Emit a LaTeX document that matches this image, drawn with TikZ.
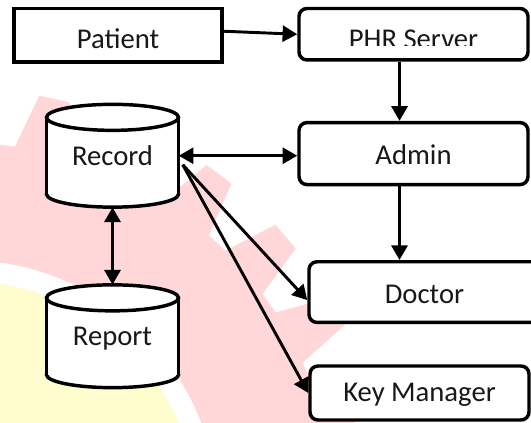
\documentclass[tikz,border=0pt]{standalone}
\usepackage{fontspec}
\setmainfont{Carlito}
\usetikzlibrary{arrows.meta,calc}
\definecolor{wmpink}{RGB}{255,215,216}
\definecolor{wmyellow}{RGB}{255,253,206}
\definecolor{txt}{RGB}{24,24,24}

\begin{document}
\begin{tikzpicture}[x=0.75pt,y=-0.75pt,
  frame/.style={draw=black, line width=2.6pt, fill=white, inner sep=0pt,
                font=\fontsize{21.5}{24}\selectfont, text=txt, text depth=0pt},
  sharpbox/.style={frame},
  roundbox/.style={frame, rounded corners=6pt},
  label/.style={inner sep=0pt, font=\fontsize{21.5}{24}\selectfont, text=txt, text depth=0pt},
  wall/.style={draw=black, line width=2.6pt, fill=white},
  tip/.tip={Triangle[length=11pt,width=12pt]},
  flow/.style={draw=black, line width=2.2pt, -tip},
  biflow/.style={draw=black, line width=2.2pt, tip-tip},
  drum/.pic={
    \filldraw[wall] (0,38.4) ellipse[x radius=66, y radius=13];
    \fill[white] (-66,-38.4) rectangle (66,38.4);
    \draw[wall] (-66,-38.4) -- (-66,38.4) (66,-38.4) -- (66,38.4);
    \filldraw[wall] (0,-38.4) ellipse[x radius=66, y radius=13];
  }]
\clip (0,0) rectangle (531,423);

% faint gear emblem in the background
\begin{scope}[shift={(-36,514)}, yscale=-1]
  \fill[wmpink] (0,0)
    \foreach \k [evaluate=\k as \c using 40.8+12.3*\k] in {-4,...,5} {
      -- ({\c-4.4}:371) -- ({\c-2.1}:425) -- ({\c+2.1}:425) -- ({\c+4.4}:371)
    } -- cycle;
  \fill[white] (0,0) circle[radius=254];
  \fill[wmyellow] (0,0) circle[radius=233];
\end{scope}

% boxes
\node[sharpbox, minimum width=156pt, minimum height=40pt, text height=20.6pt] (pat) at (118,35.25) {Patient};
\node[roundbox, minimum width=171.75pt, minimum height=38.6pt] (phr) at (413.5,34.25) {};
\begin{scope}
  \clip (299,0) rectangle (528,46);
  \node[label, text height=22.1pt] (phrtext) at (phr.center) {PHR Server};
\end{scope}
\node[roundbox, minimum width=171.75pt, minimum height=46.5pt, text height=15.9pt] (adm) at (413.5,153.6) {Admin};
\node[roundbox, minimum width=173.25pt, minimum height=45.5pt, text height=17.55pt] (doc) at (424.5,292.1) {Doctor};
\node[roundbox, minimum width=164.25pt, minimum height=40.5pt, text height=13pt] (key) at (419.5,393) {Key Manager};

% data stores
\pic at (112.5,155.75) {drum};
\pic at (112.5,336.25) {drum};
\node[label, minimum width=99pt, minimum height=77pt, text height=14.4pt] (rec) at (112.5,155.75) {Record};
\node[label, minimum width=99pt, minimum height=77pt, text height=13.7pt] (rep) at (112.5,336.25) {Report};

% connectors
\coordinate (trunk) at ($(adm.south)+(-14,0)$);
\coordinate (fan) at ($(rec.east)+(4,9)$);
\draw[flow] ($(pat.east)+(0,-4)$) -- (phr.west);
\draw[flow] ($(phr.south)+(-14,0)$) -- ($(adm.north)+(-14,0)$);
\draw[flow] (trunk) -- (trunk |- doc.north);
\draw[biflow] (rec.east) -- (rec.east -| adm.west);
\draw[biflow] (rec.south) -- (rep.north);
\draw[flow] (fan) -- ($(doc.west)+(0,8)$);
\draw[flow] (fan) -- (key.west);
\end{tikzpicture}
\end{document}
